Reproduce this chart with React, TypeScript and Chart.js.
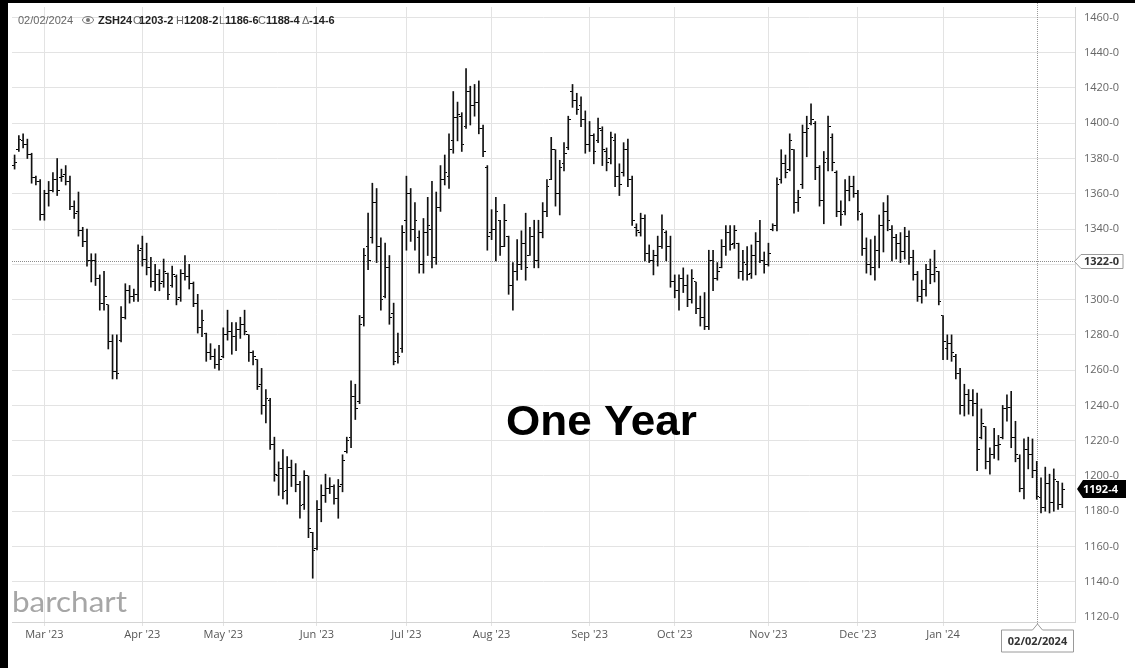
import React, { useEffect, useRef } from "react";
import { Chart, registerables } from "chart.js";

Chart.register(...registerables);

// ZSH24 daily OHLC, Feb 17 2023 .. Feb 12 2024 (index = trading day)
const highs: number[] = [
  1382, 1393, 1394, 1391, 1383, 1370, 1368, 1362, 1367, 1372,
  1380, 1374, 1376, 1370, 1356, 1361, 1341, 1340, 1326, 1326,
  1314, 1316, 1297, 1280, 1280, 1296, 1309, 1308, 1306, 1331,
  1336, 1332, 1324, 1320, 1317, 1323, 1315, 1319, 1314, 1317,
  1325, 1320, 1310, 1303, 1294, 1281, 1275, 1272, 1274, 1284,
  1294, 1287, 1287, 1290, 1294, 1280, 1271, 1266, 1261, 1249,
  1244, 1222, 1208, 1215, 1211, 1209, 1207, 1197, 1203, 1200,
  1168, 1186, 1195, 1201, 1199, 1195, 1198, 1212, 1222, 1254,
  1252, 1291, 1329, 1349, 1366, 1363, 1335, 1332, 1325, 1298,
  1281, 1342, 1370, 1363, 1355, 1339, 1346, 1358, 1367, 1361,
  1376, 1382, 1394, 1418, 1412, 1406, 1431, 1421, 1422, 1424,
  1399, 1376, 1351, 1358, 1345, 1354, 1336, 1321, 1334, 1339,
  1349, 1341, 1345, 1345, 1355, 1368, 1392, 1385, 1379, 1389,
  1404, 1422, 1417, 1415, 1407, 1401, 1394, 1403, 1398, 1386,
  1395, 1394, 1377, 1389, 1391, 1370, 1343, 1349, 1348, 1331,
  1328, 1336, 1348, 1339, 1336, 1314, 1314, 1318, 1314, 1317,
  1310, 1302, 1304, 1328, 1328, 1321, 1334, 1342, 1342, 1342,
  1332, 1328, 1330, 1331, 1338, 1345, 1327, 1332, 1343, 1369,
  1385, 1382, 1394, 1385, 1362, 1399, 1404, 1411, 1401, 1376,
  1384, 1404, 1394, 1373, 1356, 1368, 1370, 1370, 1362, 1349,
  1335, 1334, 1336, 1348, 1355, 1359, 1342, 1337, 1338, 1341,
  1339, 1328, 1316, 1311, 1320, 1323, 1328, 1316, 1291, 1280,
  1280, 1269, 1261, 1252, 1249, 1249, 1247, 1238, 1228, 1216,
  1227, 1223, 1240, 1246, 1248, 1231, 1212, 1221, 1222, 1221,
  1208.25, 1199, 1205, 1201, 1204, 1197, 1196,
];

const lows: number[] = [
  1374, 1384, 1386, 1380, 1366, 1365, 1345, 1345, 1353, 1361,
  1359, 1367, 1365, 1351, 1346, 1336, 1330, 1319, 1310, 1308,
  1294, 1294, 1272, 1255, 1255, 1276, 1289, 1298, 1299, 1299,
  1319, 1314, 1307, 1305, 1305, 1307, 1300, 1307, 1297, 1299,
  1311, 1306, 1296, 1281, 1279, 1265, 1266, 1261, 1260, 1267,
  1277, 1269, 1271, 1278, 1280, 1265, 1263, 1249, 1235, 1230,
  1215, 1197, 1189, 1187, 1184, 1194, 1191, 1176, 1181, 1165,
  1142, 1158, 1174, 1185, 1190, 1184, 1176, 1191, 1213, 1216,
  1232, 1241, 1285, 1317, 1332, 1321, 1294, 1301, 1286, 1263,
  1264, 1270, 1328, 1333, 1328, 1315, 1315, 1325, 1318, 1320,
  1350, 1365, 1363, 1383, 1390, 1384, 1397, 1399, 1404, 1394,
  1381, 1328, 1334, 1322, 1325, 1330, 1303, 1294, 1311, 1317,
  1311, 1325, 1318, 1318, 1335, 1347, 1368, 1353, 1348, 1373,
  1385, 1409, 1405, 1398, 1383, 1384, 1377, 1389, 1376, 1373,
  1377, 1364, 1359, 1370, 1364, 1342, 1336, 1336, 1322, 1321,
  1314, 1319, 1329, 1322, 1307, 1301, 1294, 1304, 1296, 1298,
  1292, 1285, 1283, 1283, 1305, 1311, 1318, 1325, 1328, 1329,
  1312, 1311, 1311, 1312, 1314, 1321, 1315, 1319, 1339, 1339,
  1366, 1369, 1373, 1349, 1350, 1363, 1381, 1399, 1368, 1353,
  1343, 1373, 1373, 1347, 1342, 1348, 1356, 1358, 1345, 1325,
  1315, 1314, 1311, 1318, 1327, 1339, 1322, 1323, 1321, 1323,
  1320, 1311, 1299, 1298, 1302, 1309, 1310, 1297, 1266, 1266,
  1265, 1255, 1235, 1234, 1235, 1234, 1203, 1221, 1204, 1201,
  1210, 1209, 1221, 1231, 1216, 1208, 1191, 1187, 1204, 1199,
  1186.75, 1179, 1180, 1179, 1180, 1181, 1182,
];

const opens: number[] = [
  1376, 1385, 1390, 1388, 1382, 1369, 1367, 1348, 1360, 1362,
  1368, 1369, 1371, 1367, 1353, 1350, 1339, 1333, 1322, 1322,
  1312, 1298, 1297, 1276, 1259, 1277, 1290, 1305, 1302, 1303,
  1329, 1323, 1318, 1310, 1314, 1310, 1315, 1308, 1313, 1301,
  1315, 1313, 1309, 1298, 1284, 1281, 1270, 1268, 1263, 1268,
  1280, 1282, 1279, 1283, 1286, 1280, 1270, 1266, 1252, 1240,
  1243, 1218, 1200, 1204, 1192, 1205, 1200, 1195, 1184, 1200,
  1168, 1159, 1181, 1189, 1193, 1194, 1187, 1195, 1214, 1222,
  1245, 1242, 1290, 1330, 1335, 1355, 1330, 1302, 1318, 1292,
  1270, 1272, 1345, 1360, 1340, 1335, 1320, 1338, 1340, 1324,
  1352, 1368, 1370, 1390, 1403, 1404, 1398, 1418, 1410, 1412,
  1397, 1375, 1338, 1340, 1345, 1330, 1336, 1308, 1316, 1320,
  1332, 1325, 1336, 1322, 1338, 1350, 1368, 1385, 1360, 1377,
  1386, 1418, 1413, 1410, 1402, 1388, 1393, 1390, 1396, 1384,
  1380, 1390, 1370, 1372, 1385, 1368, 1341, 1338, 1346, 1326,
  1322, 1325, 1330, 1338, 1330, 1310, 1305, 1312, 1308, 1300,
  1310, 1295, 1290, 1285, 1322, 1312, 1318, 1330, 1338, 1332,
  1332, 1316, 1320, 1315, 1325, 1333, 1322, 1320, 1340, 1342,
  1368, 1377, 1374, 1385, 1355, 1365, 1395, 1400, 1400, 1375,
  1356, 1380, 1392, 1372, 1350, 1350, 1362, 1364, 1360, 1348,
  1329, 1320, 1318, 1328, 1342, 1350, 1340, 1335, 1332, 1327,
  1336, 1324, 1314, 1302, 1306, 1317, 1314, 1316, 1291, 1272,
  1275, 1268, 1258, 1240, 1246, 1243, 1241, 1222, 1228, 1208,
  1212, 1217, 1222, 1238, 1239, 1222, 1210, 1193, 1215, 1212,
  1203.25, 1188, 1182, 1196, 1185, 1197, 1184,
];

const closes: number[] = [
  1378, 1391, 1388, 1382, 1369, 1367, 1348, 1360, 1362, 1368,
  1362, 1370, 1367, 1353, 1349, 1339, 1333, 1322, 1322, 1312,
  1298, 1302, 1276, 1259, 1258, 1290, 1305, 1302, 1303, 1328,
  1323, 1318, 1310, 1314, 1309, 1316, 1303, 1314, 1300, 1315,
  1313, 1309, 1298, 1284, 1288, 1270, 1268, 1263, 1266, 1280,
  1282, 1279, 1283, 1286, 1282, 1270, 1268, 1251, 1240, 1244,
  1218, 1201, 1204, 1191, 1205, 1200, 1195, 1183, 1200, 1170,
  1158, 1181, 1189, 1193, 1194, 1187, 1194, 1209, 1220, 1245,
  1238, 1286, 1325, 1322, 1355, 1330, 1300, 1318, 1290, 1265,
  1268, 1338, 1360, 1340, 1345, 1320, 1338, 1342, 1324, 1352,
  1368, 1372, 1385, 1403, 1405, 1388, 1418, 1410, 1412, 1397,
  1384, 1336, 1340, 1350, 1330, 1345, 1308, 1316, 1320, 1332,
  1318, 1336, 1322, 1338, 1350, 1364, 1385, 1360, 1375, 1383,
  1402, 1413, 1408, 1402, 1388, 1393, 1384, 1397, 1385, 1378,
  1392, 1370, 1365, 1385, 1368, 1345, 1339, 1346, 1326, 1322,
  1325, 1330, 1340, 1330, 1310, 1305, 1312, 1308, 1300, 1312,
  1295, 1290, 1285, 1322, 1312, 1316, 1330, 1338, 1331, 1339,
  1316, 1321, 1314, 1325, 1333, 1322, 1320, 1326, 1342, 1365,
  1377, 1372, 1390, 1355, 1358, 1395, 1397, 1402, 1375, 1356,
  1378, 1398, 1378, 1350, 1348, 1362, 1364, 1360, 1350, 1329,
  1320, 1318, 1328, 1342, 1350, 1345, 1335, 1332, 1327, 1336,
  1324, 1314, 1302, 1306, 1317, 1314, 1318, 1299, 1276, 1275,
  1270, 1258, 1240, 1246, 1243, 1241, 1215, 1230, 1208, 1212,
  1217, 1218, 1238, 1239, 1222, 1212, 1193, 1215, 1212, 1203.25,
  1188.5, 1182, 1196, 1185, 1198, 1184, 1192.5,
];

const monthTickIdx: number[] = [7, 30, 49, 71, 92, 112, 135, 155, 177, 198, 218];
const monthTickLabels: string[] = [
  "Mar '23", "Apr '23", "May '23", "Jun '23", "Jul '23", "Aug '23",
  "Sep '23", "Oct '23", "Nov '23", "Dec '23", "Jan '24",
];
const yTicks: number[] = [
  1120, 1140, 1160, 1180, 1200, 1220, 1240, 1260, 1280, 1300,
  1320, 1340, 1360, 1380, 1400, 1420, 1440, 1460,
];

const crossIdx = 240;
const crossLabel = "02/02/2024";
const refPrice = 1322;
const refLabel = "1322-0";
const lastLabel = "1192-4";
const headerParts: { t: string; bold: boolean; x: number }[] = [
  { t: "02/02/2024", bold: false, x: 10 },
  { t: "ZSH24", bold: true, x: 90 },
  { t: "O", bold: false, x: 125 },
  { t: "1203-2", bold: true, x: 131 },
  { t: "H", bold: false, x: 168 },
  { t: "1208-2", bold: true, x: 176 },
  { t: "L", bold: false, x: 211 },
  { t: "1186-6", bold: true, x: 217 },
  { t: "C", bold: false, x: 250 },
  { t: "1188-4", bold: true, x: 258 },
  { t: "\u0394", bold: false, x: 294 },
  { t: "-14-6", bold: true, x: 301 },
];
const titleText = "One Year";
const logoText = "barchart";

const AXIS_FONT = "'Open Sans', 'DejaVu Sans', sans-serif";
const HEAD_FONT = "'Liberation Sans', Arial, sans-serif";

function makeTick(side: "left" | "right"): HTMLCanvasElement {
  const c = document.createElement("canvas");
  c.width = 5;
  c.height = 1;
  const g = c.getContext("2d")!;
  g.fillStyle = "#000";
  g.fillRect(side === "left" ? 0 : 3, 0, 2, 1);
  return c;
}

function fitText(ctx: CanvasRenderingContext2D, text: string, x: number, y: number, width: number) {
  const w = ctx.measureText(text).width;
  ctx.save();
  ctx.translate(x, y);
  ctx.scale(width / w, 1);
  ctx.fillText(text, 0, 0);
  ctx.restore();
}

const overlayPlugin = {
  id: "overlay",
  beforeDatasetsDraw(chart: any) {
    const { ctx, chartArea: ca, scales } = chart;
    const xs = scales.x;
    const ys = scales.y;
    ctx.save();
    ctx.lineWidth = 1;
    ctx.strokeStyle = "#8c8c8c";
    ctx.setLineDash([1, 1]);
    const yr = Math.round(ys.getPixelForValue(refPrice)) + 0.5;
    ctx.beginPath();
    ctx.moveTo(ca.left, yr);
    ctx.lineTo(ca.right, yr);
    ctx.stroke();
    const xc = Math.round(xs.getPixelForValue(crossIdx)) + 0.5;
    ctx.strokeStyle = "#999";
    ctx.beginPath();
    ctx.moveTo(xc, 0);
    ctx.lineTo(xc, ca.bottom + 2);
    ctx.stroke();
    ctx.restore();
  },
  afterDraw(chart: any) {
    const { ctx, chartArea: ca, scales } = chart;
    const xs = scales.x;
    const ys = scales.y;
    ctx.save();
    // clip bottom half of lowest price label
    ctx.fillStyle = "#fff";
    ctx.fillRect(ca.right + 1, ca.bottom + 0.5, 59, 8);

    // reference price label
    const yr = Math.round(ys.getPixelForValue(refPrice)) + 0.5;
    const r = ca.right;
    ctx.beginPath();
    ctx.moveTo(r - 0.5, yr);
    ctx.lineTo(r + 6, yr - 7);
    ctx.lineTo(r + 48, yr - 7);
    ctx.lineTo(r + 48, yr + 7);
    ctx.lineTo(r + 6, yr + 7);
    ctx.closePath();
    ctx.fillStyle = "#fff";
    ctx.fill();
    ctx.strokeStyle = "#9a9a9a";
    ctx.lineWidth = 1;
    ctx.stroke();
    ctx.fillStyle = "#333";
    ctx.font = `bold 11px ${AXIS_FONT}`;
    ctx.textBaseline = "middle";
    ctx.textAlign = "left";
    ctx.fillText(refLabel, r + 9, yr + 0.5);

    // last price label
    const yl = Math.round(ys.getPixelForValue(closes[closes.length - 1]));
    ctx.beginPath();
    ctx.moveTo(r + 2, yl);
    ctx.lineTo(r + 8, yl - 9);
    ctx.lineTo(r + 51, yl - 9);
    ctx.lineTo(r + 51, yl + 9);
    ctx.lineTo(r + 8, yl + 9);
    ctx.closePath();
    ctx.fillStyle = "#000";
    ctx.fill();
    ctx.fillStyle = "#fff";
    ctx.fillText(lastLabel, r + 8, yl + 0.5);

    // crosshair date box
    const xc = Math.round(xs.getPixelForValue(crossIdx)) + 0.5;
    const top = ca.bottom + 2;
    ctx.beginPath();
    ctx.moveTo(xc - 36, top + 6);
    ctx.lineTo(xc - 5, top + 6);
    ctx.lineTo(xc, top);
    ctx.lineTo(xc + 5, top + 6);
    ctx.lineTo(xc + 36, top + 6);
    ctx.lineTo(xc + 36, top + 28);
    ctx.lineTo(xc - 36, top + 28);
    ctx.closePath();
    ctx.fillStyle = "#fff";
    ctx.fill();
    ctx.strokeStyle = "#9a9a9a";
    ctx.stroke();
    ctx.fillStyle = "#333";
    ctx.textAlign = "center";
    ctx.fillText(crossLabel, xc, top + 17.5);

    // big title
    ctx.fillStyle = "#000";
    ctx.textAlign = "left";
    ctx.textBaseline = "alphabetic";
    ctx.font = `bold 43px ${HEAD_FONT}`;
    fitText(ctx, titleText, 498, 432, 191);

    // watermark logo
    ctx.fillStyle = "#a6a6a6";
    ctx.font = `28px 'Lato', 'Open Sans', sans-serif`;
    fitText(ctx, logoText, 4, 609, 115);

    // header
    for (const p of headerParts) {
      ctx.font = `${p.bold ? "bold " : ""}11px ${HEAD_FONT}`;
      ctx.fillStyle = p.bold ? "#222" : "#666";
      ctx.fillText(p.t, p.x, 21);
    }
    // eye icon
    ctx.strokeStyle = "#777";
    ctx.fillStyle = "#777";
    ctx.lineWidth = 1;
    ctx.beginPath();
    ctx.ellipse(80, 17, 5.5, 3.5, 0, 0, Math.PI * 2);
    ctx.stroke();
    ctx.beginPath();
    ctx.arc(80, 17, 2, 0, Math.PI * 2);
    ctx.fill();
    ctx.restore();
  },
};

export default function App() {
  const ref = useRef<HTMLCanvasElement>(null);

  useEffect(() => {
    const canvas = ref.current;
    if (!canvas) return;
    const openImg = makeTick("left");
    const closeImg = makeTick("right");
    const idx = highs.map((_, i) => i);

    const chart = new Chart(canvas, {
      type: "bar",
      data: {
        datasets: [
          {
            type: "bar",
            data: idx.map((i) => ({ x: i, y: [lows[i], highs[i]] })) as any,
            backgroundColor: "#111",
            borderWidth: 0,
            barThickness: 1,
            grouped: false,
          } as any,
          {
            type: "line",
            data: idx.map((i) => ({ x: i, y: opens[i] })),
            showLine: false,
            pointStyle: openImg,
            pointRadius: 3,
            pointHoverRadius: 3,
          } as any,
          {
            type: "line",
            data: idx.map((i) => ({ x: i, y: closes[i] })),
            showLine: false,
            pointStyle: closeImg,
            pointRadius: 3,
            pointHoverRadius: 3,
          } as any,
        ],
      },
      options: {
        animation: false,
        responsive: false,
        devicePixelRatio: 1,
        events: [],
        layout: { padding: 0 },
        plugins: {
          legend: { display: false },
          tooltip: { enabled: false },
        },
        scales: {
          x: {
            type: "linear",
            offset: false,
            min: -0.608,
            max: 248.98,
            afterBuildTicks: (s: any) => {
              s.ticks = monthTickIdx.map((v) => ({ value: v }));
            },
            afterFit: (s: any) => {
              s.height = 46;
              s.paddingLeft = 0;
              s.paddingRight = 0;
            },
            ticks: {
              autoSkip: false,
              maxRotation: 0,
              minRotation: 0,
              padding: 2,
              color: "#555",
              font: { family: AXIS_FONT, size: 11 },
              callback: (_v: any, i: number) => monthTickLabels[i],
            },
            grid: { offset: false, color: "#e3e3e3", lineWidth: 1, tickLength: 4, drawTicks: true },
            border: { color: "#d4d4d4" },
          },
          y: {
            type: "linear",
            position: "right",
            min: 1117.18,
            max: 1465.92,
            afterBuildTicks: (s: any) => {
              s.ticks = yTicks.map((v) => ({ value: v }));
            },
            afterFit: (s: any) => {
              s.width = 60;
              s.paddingTop = 0;
              s.paddingBottom = 0;
            },
            ticks: {
              padding: 9,
              color: "#666",
              font: { family: AXIS_FONT, size: 11 },
              callback: (v: any) => `${v}-0`,
            },
            grid: {
              drawTicks: false,
              lineWidth: 1,
              color: (c: any) => (c.tick && c.tick.value === 1120 ? "rgba(0,0,0,0)" : "#e3e3e3"),
            },
            border: { color: "#d4d4d4" },
          },
        },
      } as any,
      plugins: [overlayPlugin],
    });
    return () => chart.destroy();
  }, []);

  return (
    <div
      style={{
        position: "fixed",
        left: 0,
        top: 0,
        width: 1135,
        height: 668,
        background: "#000",
        overflow: "hidden",
      }}
    >
      <div
        style={{
          position: "absolute",
          left: 8,
          top: 3,
          width: 1127,
          height: 665,
          background: "#fff",
        }}
      >
        <canvas ref={ref} width={1127} height={665} style={{ display: "block" }} />
      </div>
    </div>
  );
}
